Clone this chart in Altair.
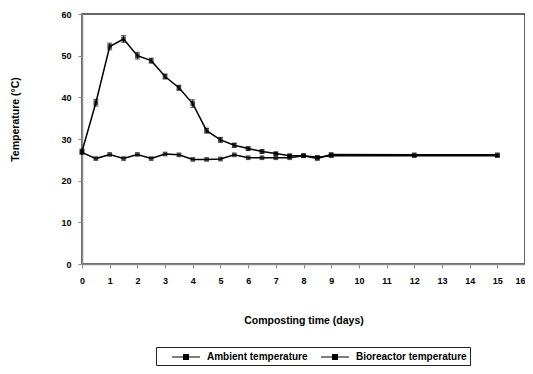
import altair as alt
import pandas as pd

days = [0, 0.5, 1, 1.5, 2, 2.5, 3, 3.5, 4, 4.5, 5, 5.5, 6, 6.5, 7, 7.5, 8, 8.5, 9, 12, 15]
bioreactor = [27, 38.7, 52.2, 54, 50, 48.8, 45, 42.3, 38.5, 32, 29.8, 28.5, 27.7, 27, 26.5, 26, 26, 25.6, 26, 26, 26]
bio_err = [0.6, 0.8, 0.8, 0.8, 0.8, 0.6, 0.6, 0.6, 0.9, 0.6, 0.6, 0.5, 0.4, 0.4, 0.3, 0.3, 0.3, 0.3, 0.3, 0.2, 0.2]
ambient = [26.8, 25.3, 26.3, 25.3, 26.3, 25.3, 26.4, 26.2, 25.1, 25.1, 25.2, 26.2, 25.5, 25.5, 25.5, 25.5, 26, 25.3, 26.3, 26.2, 26.2]
series_names = ["Ambient temperature", "Bioreactor temperature"]
x_ticks = list(range(0, 17))
y_ticks = [0, 10, 20, 30, 40, 50, 60]

rows = []
for d, a in zip(days, ambient):
    rows.append({"day": d, "temp": a, "series": series_names[0], "lo": a, "hi": a})
for d, b, e in zip(days, bioreactor, bio_err):
    rows.append({"day": d, "temp": b, "series": series_names[1], "lo": b - e, "hi": b + e})
df = pd.DataFrame(rows)

FONT = "Liberation Sans"
x_axis = alt.Axis(values=x_ticks, title="Composting time (days)", format="d",
                  titlePadding=30, labelPadding=8, labelOverlap=False, labelFlush=False,
                  labelAlign={"expr": "datum.value == 16 ? 'right' : 'center'"})
y_axis = alt.Axis(values=y_ticks, title="Temperature (°C)", titleX=-62, titleY=105,
                  labelPadding=7, labelOverlap=False)
x_scale = alt.Scale(domain=[0, 16], nice=False)
y_scale = alt.Scale(domain=[0, 60], nice=False)

legend_symbol = "M-2.33,0L2.33,0M-0.4,-0.4L0.4,-0.4L0.4,0.4L-0.4,0.4Z"

base = alt.Chart(df).encode(
    x=alt.X("day:Q", scale=x_scale, axis=x_axis),
    y=alt.Y("temp:Q", scale=y_scale, axis=y_axis),
)

lines = base.mark_line(strokeWidth=1.5).encode(
    color=alt.Color("series:N", scale=alt.Scale(domain=series_names, range=["black", "black"]),
                    legend=alt.Legend(title=None, orient="none", legendX=74, legendY=333,
                                      direction="horizontal", symbolType=legend_symbol,
                                      symbolSize=144, symbolStrokeWidth=1.2,
                                      symbolFillColor="black", symbolStrokeColor="black",
                                      symbolOffset=20, labelOffset=14,
                                      strokeColor="#222", padding=3, columnPadding=-10,
                                      labelFontSize=10, labelFont=FONT, labelFontWeight="bold")),
    detail="series:N",
)

points = base.mark_point(shape="square", filled=True, size=22, color="black")

errs = alt.Chart(df[df.series == series_names[1]]).mark_errorbar(ticks=True, color="black").encode(
    x=alt.X("day:Q", scale=x_scale, axis=x_axis),
    y=alt.Y("lo:Q", scale=y_scale, axis=y_axis),
    y2="hi:Q",
)

chart = alt.layer(lines, errs, points).properties(
    width=443, height=250,
    autosize=alt.AutoSizeParams(type="none"),
    padding={"left": 74, "top": 6, "right": 0, "bottom": 102},
).configure_view(stroke="#333", strokeWidth=1.5).configure_axis(
    grid=False, domainColor="#888", domainWidth=1.5, tickColor="#888", tickSize=4,
    labelFont=FONT, labelFontSize=9, labelFontWeight="bold", labelColor="black",
    titleFont=FONT, titleFontSize=10.5, titleFontWeight="bold", titleColor="black",
)

chart.save("out.html", embed_options={"renderer": "svg", "actions": False})
